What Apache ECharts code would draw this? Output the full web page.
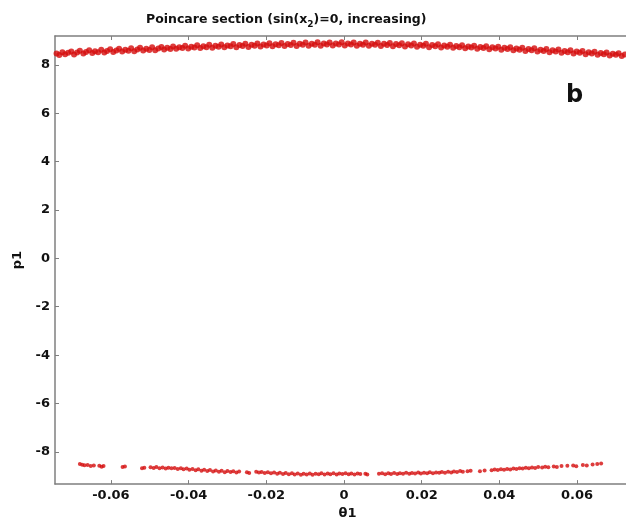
<!DOCTYPE html>
<html>
<head>
<meta charset="utf-8">
<title>Poincare section</title>
<script src="https://cdn.jsdelivr.net/npm/echarts@6/dist/echarts.min.js"></script>
<style>
  html, body { margin: 0; padding: 0; background: #fff; }
  #chart { width: 626px; height: 525px; }
</style>
</head>
<body>
<div id="chart"></div>
<script>
// Section crossings, upper branch: [theta1, p1]
const upperBranch = [
  [-0.0740, 8.47], [-0.0733, 8.40], [-0.0725, 8.52], [-0.0718, 8.44], [-0.0710, 8.50], [-0.0702, 8.55], [-0.0695, 8.43], [-0.0687, 8.51],
  [-0.0680, 8.58], [-0.0671, 8.47], [-0.0664, 8.53], [-0.0656, 8.60], [-0.0648, 8.49], [-0.0641, 8.56], [-0.0633, 8.52], [-0.0625, 8.62],
  [-0.0617, 8.51], [-0.0610, 8.57], [-0.0602, 8.64], [-0.0594, 8.53], [-0.0586, 8.59], [-0.0579, 8.66], [-0.0571, 8.55], [-0.0563, 8.62],
  [-0.0555, 8.58], [-0.0548, 8.68], [-0.0540, 8.56], [-0.0532, 8.63], [-0.0525, 8.70], [-0.0517, 8.59], [-0.0509, 8.66], [-0.0501, 8.61],
  [-0.0494, 8.72], [-0.0486, 8.60], [-0.0478, 8.67], [-0.0470, 8.74], [-0.0463, 8.63], [-0.0455, 8.70], [-0.0447, 8.65], [-0.0440, 8.76],
  [-0.0432, 8.66], [-0.0424, 8.73], [-0.0416, 8.69], [-0.0409, 8.79], [-0.0401, 8.67], [-0.0393, 8.75], [-0.0385, 8.71], [-0.0378, 8.81],
  [-0.0370, 8.69], [-0.0362, 8.77], [-0.0354, 8.73], [-0.0347, 8.83], [-0.0339, 8.70], [-0.0331, 8.79], [-0.0323, 8.75], [-0.0316, 8.84],
  [-0.0308, 8.72], [-0.0300, 8.80], [-0.0292, 8.77], [-0.0285, 8.86], [-0.0277, 8.73], [-0.0269, 8.82], [-0.0261, 8.78], [-0.0254, 8.87],
  [-0.0246, 8.74], [-0.0238, 8.83], [-0.0230, 8.79], [-0.0223, 8.88], [-0.0215, 8.76], [-0.0207, 8.84], [-0.0199, 8.80], [-0.0192, 8.89],
  [-0.0184, 8.77], [-0.0176, 8.85], [-0.0168, 8.81], [-0.0161, 8.90], [-0.0153, 8.78], [-0.0145, 8.86], [-0.0137, 8.82], [-0.0130, 8.91],
  [-0.0122, 8.78], [-0.0114, 8.87], [-0.0106, 8.83], [-0.0099, 8.92], [-0.0091, 8.79], [-0.0083, 8.87], [-0.0075, 8.83], [-0.0068, 8.93],
  [-0.0060, 8.79], [-0.0052, 8.88], [-0.0044, 8.84], [-0.0037, 8.92], [-0.0029, 8.80], [-0.0021, 8.88], [-0.0013, 8.84], [-0.0006, 8.93],
  [0.0002, 8.80], [0.0010, 8.88], [0.0018, 8.84], [0.0025, 8.92], [0.0033, 8.79], [0.0041, 8.87], [0.0049, 8.83], [0.0056, 8.92],
  [0.0064, 8.79], [0.0072, 8.87], [0.0080, 8.83], [0.0087, 8.91], [0.0095, 8.78], [0.0103, 8.87], [0.0111, 8.82], [0.0118, 8.90],
  [0.0126, 8.77], [0.0134, 8.86], [0.0142, 8.81], [0.0149, 8.89], [0.0157, 8.76], [0.0165, 8.85], [0.0173, 8.80], [0.0180, 8.88],
  [0.0188, 8.75], [0.0196, 8.83], [0.0204, 8.79], [0.0211, 8.87], [0.0219, 8.73], [0.0227, 8.82], [0.0235, 8.77], [0.0242, 8.85],
  [0.0250, 8.71], [0.0258, 8.80], [0.0266, 8.75], [0.0273, 8.83], [0.0281, 8.70], [0.0289, 8.78], [0.0297, 8.73], [0.0304, 8.81],
  [0.0312, 8.68], [0.0320, 8.76], [0.0328, 8.71], [0.0335, 8.79], [0.0343, 8.66], [0.0351, 8.74], [0.0359, 8.69], [0.0366, 8.77],
  [0.0374, 8.64], [0.0382, 8.72], [0.0390, 8.67], [0.0397, 8.75], [0.0405, 8.62], [0.0413, 8.70], [0.0421, 8.65], [0.0428, 8.73],
  [0.0436, 8.60], [0.0444, 8.67], [0.0452, 8.62], [0.0459, 8.70], [0.0467, 8.57], [0.0475, 8.65], [0.0483, 8.60], [0.0490, 8.68],
  [0.0498, 8.55], [0.0506, 8.62], [0.0514, 8.57], [0.0521, 8.65], [0.0529, 8.52], [0.0537, 8.60], [0.0545, 8.55], [0.0552, 8.63],
  [0.0560, 8.50], [0.0568, 8.57], [0.0576, 8.52], [0.0583, 8.60], [0.0591, 8.47], [0.0599, 8.55], [0.0607, 8.50], [0.0614, 8.57],
  [0.0622, 8.44], [0.0630, 8.52], [0.0638, 8.47], [0.0645, 8.54], [0.0653, 8.41], [0.0661, 8.49], [0.0669, 8.44], [0.0676, 8.51],
  [0.0684, 8.38], [0.0692, 8.46], [0.0700, 8.41], [0.0707, 8.48], [0.0715, 8.36], [0.0723, 8.43]
];

// Section crossings, lower branch: [theta1, p1]
const lowerBranch = [
  [-0.0680, -8.50], [-0.0674, -8.53], [-0.0668, -8.55], [-0.0660, -8.54], [-0.0652, -8.58], [-0.0644, -8.56],
  [-0.0630, -8.57], [-0.0624, -8.61], [-0.0619, -8.58], [-0.0570, -8.62], [-0.0564, -8.60],
  [-0.0520, -8.68], [-0.0514, -8.65], [-0.0498, -8.63], [-0.0490, -8.66], [-0.0483, -8.62], [-0.0475, -8.67],
  [-0.0467, -8.64], [-0.0459, -8.69], [-0.0452, -8.65], [-0.0444, -8.68], [-0.0436, -8.66], [-0.0428, -8.71],
  [-0.0420, -8.68], [-0.0413, -8.72], [-0.0405, -8.69], [-0.0398, -8.74], [-0.0390, -8.71], [-0.0382, -8.76],
  [-0.0375, -8.72], [-0.0367, -8.78], [-0.0360, -8.74], [-0.0352, -8.79], [-0.0345, -8.75], [-0.0337, -8.81],
  [-0.0330, -8.77], [-0.0322, -8.82], [-0.0315, -8.78], [-0.0307, -8.84], [-0.0300, -8.79], [-0.0292, -8.83],
  [-0.0285, -8.80], [-0.0277, -8.85], [-0.0270, -8.81], [-0.0250, -8.84], [-0.0244, -8.87],
  [-0.0226, -8.82], [-0.0219, -8.85], [-0.0212, -8.83], [-0.0204, -8.87], [-0.0196, -8.84], [-0.0188, -8.88],
  [-0.0180, -8.85], [-0.0172, -8.90], [-0.0165, -8.86], [-0.0157, -8.91], [-0.0150, -8.87], [-0.0142, -8.92],
  [-0.0134, -8.88], [-0.0127, -8.93], [-0.0119, -8.89], [-0.0111, -8.94], [-0.0104, -8.90], [-0.0096, -8.93],
  [-0.0088, -8.89], [-0.0081, -8.94], [-0.0073, -8.90], [-0.0065, -8.92], [-0.0058, -8.88], [-0.0050, -8.93],
  [-0.0042, -8.89], [-0.0035, -8.92], [-0.0027, -8.88], [-0.0019, -8.93], [-0.0012, -8.89], [-0.0004, -8.91],
  [0.0004, -8.88], [0.0012, -8.92], [0.0019, -8.89], [0.0027, -8.93], [0.0035, -8.89], [0.0042, -8.91],
  [0.0055, -8.90], [0.0060, -8.93],
  [0.0090, -8.90], [0.0098, -8.88], [0.0106, -8.92], [0.0114, -8.88], [0.0121, -8.91], [0.0129, -8.87],
  [0.0137, -8.91], [0.0144, -8.88], [0.0152, -8.90], [0.0160, -8.86], [0.0168, -8.90], [0.0175, -8.87],
  [0.0183, -8.89], [0.0191, -8.85], [0.0198, -8.89], [0.0206, -8.86], [0.0214, -8.88], [0.0221, -8.84],
  [0.0229, -8.88], [0.0237, -8.85], [0.0245, -8.86], [0.0252, -8.83], [0.0260, -8.86], [0.0268, -8.82],
  [0.0276, -8.85], [0.0283, -8.81], [0.0291, -8.83], [0.0299, -8.79], [0.0306, -8.82], [0.0318, -8.80],
  [0.0326, -8.78], [0.0350, -8.80], [0.0362, -8.77],
  [0.0380, -8.76], [0.0388, -8.73], [0.0396, -8.75], [0.0404, -8.72], [0.0412, -8.74], [0.0420, -8.71],
  [0.0428, -8.73], [0.0436, -8.69], [0.0444, -8.71], [0.0452, -8.67], [0.0460, -8.69], [0.0468, -8.65],
  [0.0476, -8.68], [0.0484, -8.64], [0.0492, -8.66], [0.0500, -8.62], [0.0510, -8.64], [0.0518, -8.61],
  [0.0526, -8.63], [0.0540, -8.60], [0.0548, -8.62], [0.0560, -8.58], [0.0575, -8.57], [0.0590, -8.56],
  [0.0598, -8.59], [0.0615, -8.54], [0.0625, -8.56], [0.0640, -8.52], [0.0652, -8.50], [0.0662, -8.48]
];

// Tick labels
const thetaTicks = [-0.06, -0.04, -0.02, 0, 0.02, 0.04, 0.06];
const pTicks = [-8, -6, -4, -2, 0, 2, 4, 6, 8];

const axisGray = '#7f7f7f';
const dotRed = '#d40c0c';
const fontStack = '"DejaVu Sans", "Liberation Sans", Arial, sans-serif';
const labelFont = { color: '#111', fontWeight: 'bold', fontSize: 13, fontFamily: fontStack };

const chart = echarts.init(document.getElementById('chart'), null, { renderer: 'canvas' });

chart.setOption({
  animation: false,
  backgroundColor: '#ffffff',
  title: {
    text: '{a|Poincare section (sin(x}{s|2}{a|)=0, increasing)}',
    left: 141,
    top: 6,
    textStyle: {
      rich: {
        a: { fontSize: 12.5, fontWeight: 'bold', color: '#111', fontFamily: fontStack },
        s: { fontSize: 9, fontWeight: 'bold', color: '#111', fontFamily: fontStack, padding: [9, 0, 0, 0] }
      }
    }
  },
  grid: { left: 55, right: 0, top: 36, bottom: 37, containLabel: false },
  xAxis: [
    {
      type: 'value',
      position: 'bottom',
      min: -0.0744,
      max: 0.0726,
      name: 'θ1',
      nameLocation: 'middle',
      nameGap: 22,
      nameTextStyle: Object.assign({}, labelFont, { padding: [0, 0, 0, 14] }),
      axisLine: { show: true, onZero: false, lineStyle: { color: axisGray, width: 1.5 } },
      axisTick: { show: true, inside: true, length: 4, customValues: thetaTicks, lineStyle: { color: axisGray } },
      axisLabel: Object.assign({}, labelFont, {
        customValues: thetaTicks,
        margin: 5,
        formatter: v => (Math.abs(v) < 1e-9 ? '0' : v.toFixed(2))
      }),
      splitLine: { show: false }
    },
    {
      type: 'value',
      position: 'top',
      min: -0.0744,
      max: 0.0726,
      axisLine: { show: true, onZero: false, lineStyle: { color: axisGray, width: 1.5 } },
      axisTick: { show: true, inside: true, length: 4, customValues: thetaTicks, lineStyle: { color: axisGray } },
      axisLabel: { show: false },
      splitLine: { show: false }
    }
  ],
  yAxis: {
    type: 'value',
    min: -9.33,
    max: 9.19,
    name: 'p1',
    nameLocation: 'middle',
    nameGap: 31,
    nameRotate: 90,
    nameTextStyle: labelFont,
    axisLine: { show: true, onZero: false, lineStyle: { color: axisGray, width: 1.5 } },
    axisTick: { show: true, inside: true, length: 4, customValues: pTicks, lineStyle: { color: axisGray } },
    axisLabel: Object.assign({}, labelFont, { customValues: pTicks, margin: 5 }),
    splitLine: { show: false }
  },
  graphic: [
    {
      type: 'text',
      left: 566,
      top: 84,
      style: { text: 'b', font: 'bold 24px "DejaVu Sans", "Liberation Sans", Arial, sans-serif', fill: '#111' }
    }
  ],
  series: [
    {
      name: 'upper',
      type: 'scatter',
      data: upperBranch,
      symbol: 'circle',
      symbolSize: 6,
      itemStyle: { color: dotRed },
      silent: true
    },
    {
      name: 'lower',
      type: 'scatter',
      data: lowerBranch,
      symbol: 'circle',
      symbolSize: 4,
      itemStyle: { color: dotRed },
      silent: true
    }
  ]
});
</script>
</body>
</html>
